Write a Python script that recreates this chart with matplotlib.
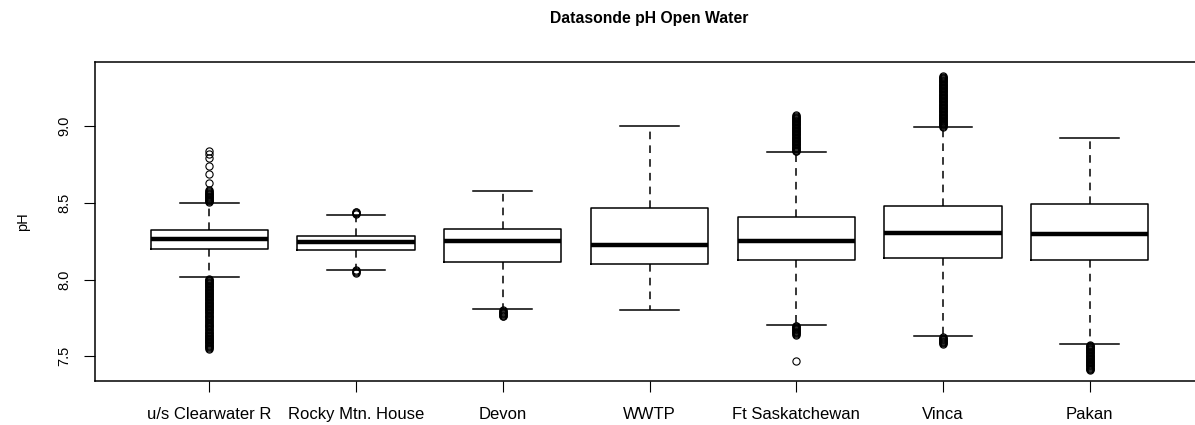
import numpy as np
import matplotlib
matplotlib.use("Agg")
import matplotlib.pyplot as plt

plt.rcParams['font.family'] = ['Liberation Sans', 'DejaVu Sans']

sites = ["u/s Clearwater R", "Rocky Mtn. House", "Devon", "WWTP",
         "Ft Saskatchewan", "Vinca", "Pakan"]

# box stats
whislo = [8.016, 8.064, 7.806, 7.800, 7.706, 7.630, 7.583]
q1 = [8.196, 8.195, 8.112, 8.099, 8.125, 8.140, 8.125]
med = [8.264, 8.242, 8.249, 8.222, 8.249, 8.303, 8.294]
q3 = [8.320, 8.281, 8.327, 8.463, 8.407, 8.481, 8.489]
whishi = [8.498, 8.418, 8.574, 9.003, 8.830, 8.992, 8.925]

# outliers (dense runs are read as closely spaced points)
out_cw = [8.84, 8.82, 8.79, 8.74, 8.69, 8.63, 8.58, 8.575, 8.57, 8.565,
          8.56, 8.555, 8.55, 8.545, 8.54, 8.535, 8.53, 8.525, 8.52, 8.515,
          8.51, 8.505,
          8.005, 8.00, 7.995, 7.99, 7.985, 7.98, 7.975, 7.97, 7.965, 7.96,
          7.955, 7.95, 7.945, 7.94, 7.935, 7.93, 7.925, 7.92, 7.915, 7.91,
          7.905, 7.90, 7.895, 7.89, 7.885, 7.88, 7.875, 7.87, 7.865, 7.86,
          7.855, 7.85, 7.845, 7.84, 7.835, 7.83, 7.825, 7.82, 7.815, 7.81,
          7.805, 7.80, 7.795, 7.79, 7.785, 7.78, 7.77, 7.765, 7.76, 7.755,
          7.75, 7.74, 7.735, 7.73, 7.725, 7.72, 7.71, 7.705, 7.70, 7.695,
          7.69, 7.68, 7.675, 7.67, 7.66, 7.655, 7.65, 7.645, 7.64, 7.635,
          7.63, 7.625, 7.62, 7.615, 7.61, 7.605, 7.60, 7.595, 7.59, 7.585,
          7.58, 7.575, 7.57, 7.565, 7.56, 7.555, 7.55]
out_rocky = [8.44, 8.437, 8.434, 8.43, 8.06, 8.055, 8.05, 8.045]
out_devon = [7.80, 7.795, 7.79, 7.785, 7.78, 7.775, 7.77, 7.765, 7.76]
out_wwtp = []
out_ftsask = [9.07, 9.065, 9.06, 9.055, 9.05, 9.045, 9.04, 9.035, 9.03,
              9.025, 9.02, 9.015, 9.01, 9.005, 9.00, 8.995, 8.99, 8.985,
              8.98, 8.975, 8.97, 8.965, 8.96, 8.955, 8.95, 8.945, 8.94,
              8.935, 8.93, 8.925, 8.92, 8.915, 8.91, 8.905, 8.90, 8.895,
              8.89, 8.885, 8.88, 8.875, 8.87, 8.865, 8.86, 8.855, 8.85,
              8.845, 8.84, 8.835,
              7.70, 7.695, 7.69, 7.685, 7.68, 7.675, 7.67, 7.665, 7.66,
              7.655, 7.65, 7.645, 7.64, 7.47]
out_vinca = [9.325, 9.32, 9.315, 9.31, 9.305, 9.30, 9.295, 9.29, 9.285,
             9.28, 9.275, 9.27, 9.265, 9.26, 9.255, 9.25, 9.245, 9.24,
             9.235, 9.23, 9.225, 9.22, 9.215, 9.21, 9.205, 9.20, 9.195,
             9.19, 9.185, 9.18, 9.175, 9.17, 9.165, 9.16, 9.155, 9.15,
             9.145, 9.14, 9.135, 9.13, 9.125, 9.12, 9.115, 9.11, 9.105,
             9.10, 9.095, 9.09, 9.085, 9.08, 9.075, 9.07, 9.065, 9.06,
             9.055, 9.05, 9.045, 9.04, 9.035, 9.03, 9.025, 9.02, 9.015,
             9.01, 9.005, 9.00, 8.995,
             7.625, 7.62, 7.615, 7.61, 7.605, 7.60, 7.595, 7.59, 7.585, 7.58]
out_pakan = [7.575, 7.57, 7.565, 7.56, 7.555, 7.55, 7.545, 7.54, 7.535,
             7.53, 7.525, 7.52, 7.515, 7.51, 7.505, 7.50, 7.495, 7.49,
             7.485, 7.48, 7.475, 7.47, 7.465, 7.46, 7.455, 7.45, 7.445,
             7.44, 7.435, 7.43, 7.425, 7.42, 7.415, 7.41]
fliers = [out_cw, out_rocky, out_devon, out_wwtp, out_ftsask, out_vinca, out_pakan]

stats = []
for i in range(len(sites)):
    stats.append(dict(whislo=whislo[i], q1=q1[i], med=med[i], q3=q3[i],
                      whishi=whishi[i], fliers=fliers[i], label=sites[i]))

fig = plt.figure(figsize=(11.95, 4.25), dpi=100)
ax = fig.add_axes([95/1195, 44/425, 1109/1195, 319/425])

ax.bxp(stats, positions=range(1, 8), widths=0.8, capwidths=0.4,
       boxprops=dict(color="black", linewidth=1.1),
       medianprops=dict(color="black", linewidth=3.2),
       whiskerprops=dict(color="black", linewidth=1.1, linestyle=(0, (5, 4))),
       capprops=dict(color="black", linewidth=1.1),
       flierprops=dict(marker="o", markerfacecolor="none", markeredgecolor="black",
                       markersize=5.2, markeredgewidth=0.8))

ax.set_xlim(0.22, 7.78)
ax.set_ylim(7.339, 9.417)
ax.set_yticks([7.5, 8.0, 8.5, 9.0])
ax.set_yticklabels(["7.5", "8.0", "8.5", "9.0"], rotation=90, va="center")
ax.tick_params(axis="y", length=8, pad=9, labelsize=10.5)
ax.tick_params(axis="x", length=8, pad=11, labelsize=12)
for s in ax.spines.values():
    s.set_linewidth(1.1)

ax.set_ylabel("pH", fontsize=10.5, labelpad=20)
ax.set_title("Datasonde pH Open Water", fontsize=11.3, fontweight="bold", pad=28)

fig.savefig("out.png", dpi=100)
